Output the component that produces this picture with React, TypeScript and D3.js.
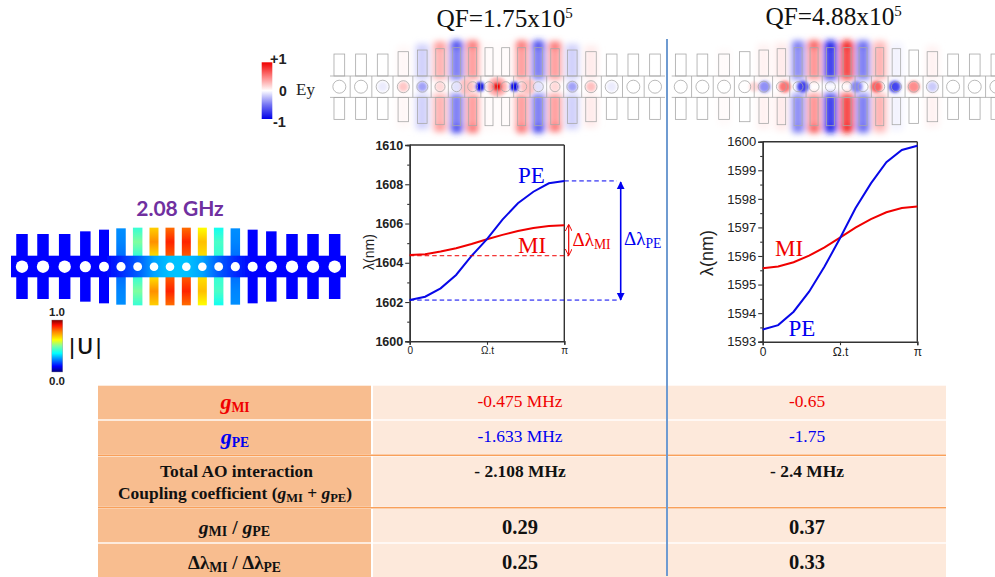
import React, { useEffect, useRef } from "react";
import * as d3 from "d3";

// ---- Data ----
const phase = [0, 0.1, 0.2, 0.3, 0.4, 0.5, 0.6, 0.7, 0.8, 0.9, 1];
const pe175 = [1602.1, 1602.27, 1602.7, 1603.38, 1604.35, 1605.2, 1606.2, 1607.03, 1607.62, 1608.05, 1608.17];
const mi175 = [1604.4, 1604.43, 1604.57, 1604.74, 1604.96, 1605.2, 1605.42, 1605.62, 1605.77, 1605.87, 1605.91];
const pe488 = [1593.43, 1593.58, 1594.05, 1594.75, 1595.63, 1596.62, 1597.67, 1598.54, 1599.28, 1599.71, 1599.86];
const mi488 = [1595.57, 1595.63, 1595.78, 1596.01, 1596.3, 1596.64, 1596.99, 1597.29, 1597.53, 1597.68, 1597.73];
const majorTicks175 = [1600, 1602, 1604, 1606, 1608, 1610];
const minorTicks175 = [1601, 1603, 1605, 1607, 1609];
const majorTicks488 = [1593, 1594, 1595, 1596, 1597, 1598, 1599, 1600];
const minorTicks488 = [1593.5, 1594.5, 1595.5, 1596.5, 1597.5, 1598.5, 1599.5];

// Ey field amplitude for each of the 18 unit cells
const eyArms175 = [0, 0, 0, 0.03, -0.16, 0.3, -0.45, 0.38, 0.02, 0.02, 0.38, -0.45, 0.38, -0.16, 0.08, 0, 0, 0];
const eyArms488 = [0, 0, 0.02, 0, 0.05, 0.08, -0.38, 0.42, -0.72, 0.72, -0.45, 0.3, -0.04, 0, 0.05, 0, 0, 0];
const eyTips175 = [0, 0, 0, 0, 0, 0.45, -0.85, 0.65, 0, 0, 0.65, -0.85, 0.65, 0, 0, 0, 0, 0];
const eyTips488 = [0, 0, 0, 0, 0, 0, -0.5, 0.8, -1, 1, -0.6, 0.25, 0, 0, 0, 0, 0, 0];
const eyHole175: [number, number, number][] = [[8.5, 0.3, 10], [6.6, 0.24, 8], [10.4, 0.24, 8], [3, 0.22, 5], [4, -0.32, 5], [5, 0.15, 5], [12, 0.15, 5], [13, -0.32, 5], [14, 0.25, 5], [2, -0.07, 5], [15, -0.07, 5], [6, -0.1, 5], [11, -0.1, 5], [7.45, -1, 4.6], [9.55, -1, 4.6], [8.5, 1, 4.8]];
const eyHole488: [number, number, number][] = [[6.3, -0.7, 6], [5.2, 0.55, 6], [4.05, -0.38, 6], [3.5, 0.16, 5], [10.8, 0.62, 6], [11.9, -0.7, 6], [13, 0.45, 6], [14, -0.18, 5], [9.6, -0.42, 6]];

// Acoustic |U| per cell: [next to the waveguide, mid arm, arm tip]
const uArms: [number, number, number][] = [
  [0.11, 0.11, 0.11], [0.11, 0.11, 0.11], [0.11, 0.11, 0.11], [0.11, 0.11, 0.11], [0.11, 0.11, 0.11],
  [0.22, 0.24, 0.25], [0.42, 0.5, 0.42], [0.66, 0.76, 0.68], [0.82, 0.88, 0.8], [0.82, 0.88, 0.8],
  [0.66, 0.7, 0.62], [0.42, 0.44, 0.38], [0.22, 0.24, 0.25], [0.11, 0.11, 0.11], [0.11, 0.11, 0.11],
  [0.11, 0.11, 0.11], [0.11, 0.11, 0.11], [0.11, 0.11, 0.11],
];
const uBand = [0.11, 0.11, 0.11, 0.11, 0.11, 0.15, 0.2, 0.27, 0.3, 0.3, 0.27, 0.2, 0.15, 0.11, 0.11, 0.11, 0.11, 0.11];

const rowLabels = ["gMI", "gPE", "total", "gratio", "lratio"];
const values175 = ["-0.475 MHz", "-1.633 MHz", "- 2.108 MHz", "0.29", "0.25"];
const values488 = ["-0.65", "-1.75", "- 2.4 MHz", "0.37", "0.33"];

// ---- Layout ----
const ROW_TOP = [385.7, 420.7, 456.5, 509, 543.7];
const ROW_BOT = [419.3, 454.3, 506.8, 542.3, 577];
const ROW_BASE = [406.7, 441.5, 477, 533.5, 568.5];
const CELL_X = [268, 333, 398, 460, 517, 570, 620, 668, 717, 767, 815, 865, 915, 967, 1023, 1085, 1150, 1215].map((v) => v / 3);
const CELL_TOP = [162, 162, 162, 155, 150, 146, 143, 143, 143, 143, 143, 143, 146, 150, 155, 162, 162, 162].map((v) => (v - 260) / 3);
const CELL_W = [10.7, 10.7, 10.7, 10.5, 9.5, 8.5, 8, 8, 8, 8, 8, 8, 8.5, 9.5, 10.5, 10.7, 10.7, 10.7];
const HOLE_R = [6.5, 6.5, 6.5, 6, 5.5, 5, 5, 5, 5, 5, 5, 5, 5, 5.5, 6, 6.5, 6.5, 6.5];
const US_X = [66, 129, 194, 256, 312, 363, 413, 462, 510, 559, 607, 656, 706, 758, 814, 876, 939, 1004].map((v) => v / 3);
const US_TOP = [132, 132, 132, 124, 119, 115, 113, 113, 113, 113, 113, 113, 115, 119, 124, 132, 132, 132].map((v) => 190 + v / 3);
const US_W = [11.5, 11.5, 11.5, 10.5, 10, 9.5, 9.5, 9, 9, 9, 9, 9.5, 9.5, 10, 10.5, 11.5, 11.5, 11.5];
const US_R = [6.2, 6.2, 6.2, 5.6, 5, 4.6, 4.4, 4.3, 4.3, 4.3, 4.3, 4.4, 4.6, 5, 5.6, 6.2, 6.2, 6.2];

const ey = d3.scaleLinear<string>().domain([-1, -0.4, 0, 0.4, 1]).range(["#0000e8", "#8a8af5", "#ffffff", "#ff9a9a", "#f00000"]);
const jet = d3.scaleLinear<string>()
  .domain([0, 0.11, 0.36, 0.5, 0.62, 0.78, 0.9, 1])
  .range(["#00007f", "#0000ff", "#00ffff", "#7fff9f", "#ffff00", "#ff8000", "#ff1000", "#800000"]);

const SERIF = "'Liberation Serif', serif";
const SANS = "'Liberation Sans', sans-serif";

function FieldMap({ id, dx, x0, x1, arms, tips, holes }: { id: string; dx: number; x0: number; x1: number; arms: number[]; tips: number[]; holes: [number, number, number][] }) {
  const cy = 86.7;
  return (
    <g>
      <defs>
        <clipPath id={`${id}-clip`}><rect x={x0 - 6} y={30} width={x1 - x0 + 12} height={112} /></clipPath>
      </defs>
      <g clipPath={`url(#${id}-clip)`}>
        <g filter="url(#blur3)">
          {arms.map((a, i) => a === 0 ? null : (
            <g key={i} fill={ey(a)}>
              <rect x={dx + CELL_X[i] - 6.5} y={cy + CELL_TOP[i] - 6} width={13} height={-CELL_TOP[i] - 1} />
              <rect x={dx + CELL_X[i] - 6.5} y={cy + 7} width={13} height={-CELL_TOP[i] - 1} />
            </g>
          ))}
          {tips.map((a, i) => a === 0 ? null : (
            <g key={i} fill={ey(a)} opacity={0.8}>
              <rect x={dx + CELL_X[i] - 5} y={cy + CELL_TOP[i] - 7} width={10} height={7} />
              <rect x={dx + CELL_X[i] - 5} y={cy - CELL_TOP[i]} width={10} height={7} />
            </g>
          ))}
        </g>
        <g filter="url(#blur2)">
          {holes.map(([c, a, r], i) => {
            const lo = Math.floor(c), hi = Math.min(17, lo + 1);
            const x = CELL_X[lo] + (CELL_X[hi] - CELL_X[lo]) * (c - lo);
            return <circle key={i} cx={dx + x} cy={cy} r={r} fill={ey(a)} />;
          })}
        </g>
        <g fill="none" stroke="#a8a8a8" strokeWidth={0.8}>
          {CELL_X.map((x, i) => (
            <g key={i}>
              <rect x={dx + x - CELL_W[i] / 2} y={cy + CELL_TOP[i]} width={CELL_W[i]} height={-CELL_TOP[i] - 10.7} />
              <rect x={dx + x - CELL_W[i] / 2} y={cy + 10.7} width={CELL_W[i]} height={-CELL_TOP[i] - 10.7} />
              <circle cx={dx + x} cy={cy} r={HOLE_R[i]} />
              {i > 0 && <line x1={dx + (x + CELL_X[i - 1]) / 2} x2={dx + (x + CELL_X[i - 1]) / 2} y1={cy - 10.7} y2={cy + 10.7} />}
            </g>
          ))}
          <line x1={x0} x2={x1} y1={cy - 10.7} y2={cy - 10.7} />
          <line x1={x0} x2={x1} y1={cy + 10.7} y2={cy + 10.7} />
        </g>
      </g>
    </g>
  );
}

function Strip() {
  return (
    <g filter="url(#blur05)">
      <defs>
        {uArms.map((u, i) => (
          <React.Fragment key={i}>
            <linearGradient id={`at${i}`} x1="0" x2="0" y1="1" y2="0">
              {u.map((v, k) => <stop key={k} offset={k / 2} stopColor={jet(v)} />)}
            </linearGradient>
            <linearGradient id={`ab${i}`} x1="0" x2="0" y1="0" y2="1">
              {u.map((v, k) => <stop key={k} offset={k / 2} stopColor={jet(v)} />)}
            </linearGradient>
          </React.Fragment>
        ))}
        <linearGradient id="uband" x1="0" x2="1" y1="0" y2="0">
          {uBand.map((v, i) => <stop key={i} offset={(US_X[i] - 11) / 335} stopColor={jet(v)} />)}
        </linearGradient>
      </defs>
      {US_X.map((x, i) => (
        <g key={i}>
          <rect x={x - US_W[i] / 2} y={US_TOP[i]} width={US_W[i]} height={256 - US_TOP[i]} fill={`url(#at${i})`} />
          <rect x={x - US_W[i] / 2} y={277} width={US_W[i]} height={256 - US_TOP[i]} fill={`url(#ab${i})`} />
        </g>
      ))}
      <rect x={11} y={255.7} width={335} height={21.6} fill="url(#uband)" />
      {US_X.map((x, i) => <circle key={i} cx={x} cy={266.7} r={US_R[i]} fill="#fff" />)}
    </g>
  );
}

function Axis({ scale, side, at, values, size, labels, font }: any) {
  const ref = useRef<SVGGElement>(null);
  useEffect(() => {
    const gen = side === "left" ? d3.axisLeft(scale) : d3.axisBottom(scale);
    gen.tickValues(values).tickSize(size).tickPadding(2).tickFormat(labels ?? (() => ""));
    const g = d3.select(ref.current!);
    g.call(gen as any);
    g.select(".domain").attr("stroke", "#333").attr("stroke-width", 1.4);
    g.selectAll(".tick line").attr("stroke", "#333").attr("stroke-width", 1.1);
    g.selectAll("text").attr("fill", "#222").style("font", font ?? "").attr("font-family", SANS);
  }, []);
  return <g ref={ref} transform={side === "left" ? `translate(${at},0)` : `translate(0,${at})`} />;
}

function Plot({ x0, x1, yTop, yBot, domain, pe, mi, major, minor, font, xFont }: any) {
  const x = d3.scaleLinear().domain([0, 1]).range([x0, x1]);
  const y = d3.scaleLinear().domain(domain).range([yBot, yTop]);
  const line = d3.line<number>().x((_, i) => x(phase[i])).y((v) => y(v));
  return (
    <g>
      <line x1={x0} x2={x1} y1={yTop} y2={yTop} stroke="#333" strokeWidth={1.4} />
      <line x1={x1} x2={x1} y1={yTop} y2={yBot} stroke="#333" strokeWidth={1.4} />
      <Axis scale={y} side="left" at={x0} values={minor} size={2.5} />
      <Axis scale={y} side="left" at={x0} values={major} size={4.5} labels={(d: number) => String(d)} font={font} />
      <Axis scale={x} side="bottom" at={yBot} values={[0, 0.5, 1]} size={3.5} labels={(d: number) => (d === 0 ? "0" : d === 1 ? "π" : "Ω.t")} font={xFont} />
      <path d={line(mi)!} fill="none" stroke="#f00000" strokeWidth={2} />
      <path d={line(pe)!} fill="none" stroke="#0808e8" strokeWidth={2} />
    </g>
  );
}

function Sub({ children, dy = 4, size = 0.72 }: any) {
  return <tspan dy={dy} fontSize={`${size}em`}>{children}</tspan>;
}

function RowLabel({ kind }: { kind: string }) {
  const cx = 235;
  if (kind === "gMI" || kind === "gPE") {
    const c = kind === "gMI" ? "#f00000" : "#0000f0";
    return (
      <text x={cx} y={ROW_BASE[kind === "gMI" ? 0 : 1] + 2.5} textAnchor="middle" fill={c} fontFamily={SERIF} fontWeight="bold" fontSize={19}>
        <tspan fontStyle="italic" fontSize={22}>g</tspan><Sub dy={3}>{kind.slice(1)}</Sub>
      </text>
    );
  }
  if (kind === "total") {
    return (
      <g fontFamily={SERIF} fontWeight="bold" fontSize={17.4} fill="#111" textAnchor="middle">
        <text x={236.5} y={477}>Total AO interaction</text>
        <text x={235} y={499}>
          Coupling coefficient (<tspan fontStyle="italic">g</tspan><Sub dy={3}>MI</Sub>
          <tspan dy={-3}> + </tspan><tspan fontStyle="italic">g</tspan><Sub dy={3}>PE</Sub><tspan dy={-3}>)</tspan>
        </text>
      </g>
    );
  }
  if (kind === "gratio") {
    return (
      <text x={234.5} y={533.5} textAnchor="middle" fontFamily={SERIF} fontWeight="bold" fontSize={19.5} fill="#111">
        <tspan fontStyle="italic">g</tspan><Sub dy={2.5}>MI</Sub><tspan dy={-2.5}> / </tspan>
        <tspan fontStyle="italic">g</tspan><Sub dy={2.5}>PE</Sub>
      </text>
    );
  }
  return (
    <text x={234.5} y={568.5} textAnchor="middle" fontFamily={SERIF} fontWeight="bold" fontSize={19} fill="#111">
      Δλ<Sub dy={3}>MI</Sub><tspan dy={-3}> / Δλ</tspan><Sub dy={3}>PE</Sub>
    </text>
  );
}

export default function App() {
  const y175 = d3.scaleLinear().domain([1600, 1610]).range([341.3, 145]);
  const x175End = 564.3, x175Start = 409.7;
  const rowColor = (i: number) => (i === 0 ? "#f00000" : i === 1 ? "#0000f0" : "#111");
  const rowSize = (i: number) => (i < 3 ? 17.4 : 20.5);
  const rowWeight = (i: number) => (i < 2 ? "normal" : "bold");
  return (
    <svg width={995} height={577} style={{ position: "absolute", left: 0, top: 0, background: "#fff" }}>
      <defs>
        <filter id="blur3" filterUnits="userSpaceOnUse" x="320" y="0" width="680" height="170"><feGaussianBlur stdDeviation="3.4" /></filter>
        <filter id="blur2" filterUnits="userSpaceOnUse" x="320" y="0" width="680" height="170"><feGaussianBlur stdDeviation="1.6" /></filter>
        <filter id="blur05" filterUnits="userSpaceOnUse" x="0" y="200" width="360" height="130"><feGaussianBlur stdDeviation="0.4" /></filter>
        <linearGradient id="eybar" x1="0" x2="0" y1="0" y2="1">
          {[1, 0.5, 0, -0.5, -1].map((v, i) => <stop key={i} offset={i / 4} stopColor={ey(v)} />)}
        </linearGradient>
        <linearGradient id="ubar" x1="0" x2="0" y1="1" y2="0">
          {[0, 0.11, 0.36, 0.5, 0.62, 0.78, 0.9, 1].map((v) => <stop key={v} offset={v} stopColor={jet(v)} />)}
        </linearGradient>
        <marker id="ab" viewBox="0 0 10 10" refX="9" refY="5" markerWidth="8" markerHeight="9" markerUnits="userSpaceOnUse" orient="auto-start-reverse">
          <path d="M0,0L10,5L0,10Z" fill="#0000f0" />
        </marker>
        <marker id="ar" viewBox="0 0 10 10" refX="9" refY="5" markerWidth="7" markerHeight="7" markerUnits="userSpaceOnUse" orient="auto-start-reverse">
          <path d="M0,0L10,5L0,10" fill="none" stroke="#f00000" strokeWidth="1.4" />
        </marker>
      </defs>

      {/* Table */}
      {rowLabels.map((k, i) => (
        <g key={k}>
          <rect x={98} y={ROW_TOP[i]} width={273} height={ROW_BOT[i] - ROW_TOP[i]} fill="#f8bd8f" />
          <rect x={373} y={ROW_TOP[i]} width={573} height={ROW_BOT[i] - ROW_TOP[i]} fill="#fde9db" />
        </g>
      ))}
      <line x1={98} x2={946} y1={455.2} y2={455.2} stroke="#f9a05a" strokeWidth={1.4} />
      <line x1={98} x2={946} y1={507.7} y2={507.7} stroke="#f9a05a" strokeWidth={1.4} />
      {rowLabels.map((k) => <RowLabel key={k} kind={k} />)}
      {values175.map((v, i) => (
        <text key={i} x={520} y={ROW_BASE[i]} textAnchor="middle" fontFamily={SERIF} fontSize={rowSize(i)} fontWeight={rowWeight(i)} fill={rowColor(i)}>{v}</text>
      ))}
      {values488.map((v, i) => (
        <text key={i} x={807} y={ROW_BASE[i]} textAnchor="middle" fontFamily={SERIF} fontSize={rowSize(i)} fontWeight={rowWeight(i)} fill={rowColor(i)}>{v}</text>
      ))}

      {/* Field maps */}
      <FieldMap id="m1" dx={250} x0={330} x1={665} arms={eyArms175} tips={eyTips175} holes={eyHole175} />
      <FieldMap id="m2" dx={591.4} x0={671.7} x1={995} arms={eyArms488} tips={eyTips488} holes={eyHole488} />
      <line x1={667} x2={667} y1={39} y2={576} stroke="#6f9bd1" strokeWidth={2} />

      {/* Titles */}
      <text x={436.5} y={27} fontFamily={SERIF} fontSize={25.3} fill="#111">QF=1.75x10<tspan dy={-9} fontSize={15}>5</tspan></text>
      <text x={765.5} y={25} fontFamily={SERIF} fontSize={25.3} fill="#111">QF=4.88x10<tspan dy={-9} fontSize={15}>5</tspan></text>

      {/* Ey legend */}
      <rect x={261.7} y={62.3} width={10.6} height={56.7} fill="url(#eybar)" />
      <g fontFamily={SANS} fontWeight="bold" fill="#222">
        <text x={270} y={64} fontSize={14.5}>+1</text>
        <text x={279} y={96} fontSize={14}>0</text>
        <text x={273} y={127} fontSize={14.5}>-1</text>
      </g>
      <text x={296} y={95} fontFamily={SERIF} fontSize={17} fill="#222">Ey</text>

      {/* Acoustic mode */}
      <text x={180} y={216} textAnchor="middle" fontFamily="Lato, sans-serif" fontWeight="bold" fontSize={21} fill="#7030a0">2.08 GHz</text>
      <Strip />
      <rect x={51.8} y={320} width={11} height={52} fill="url(#ubar)" stroke="#999" strokeWidth={0.4} />
      <g fontFamily={SANS} fontWeight="bold" fontSize={11.5} fill="#222" textAnchor="middle">
        <text x={57} y={316}>1.0</text>
        <text x={57} y={385}>0.0</text>
      </g>
      <text x={66} y={354} fontFamily="'Open Sans', sans-serif" fontWeight="600" fontSize={22} letterSpacing={-1} fill="#111">|U|</text>

      {/* Plots */}
      <Plot x0={x175Start} x1={x175End} yTop={145} yBot={341.3} domain={[1600, 1610]} pe={pe175} mi={mi175} major={majorTicks175} minor={minorTicks175} font="bold 12.5px sans-serif" xFont="10px sans-serif" />
      <text transform="translate(374,252) rotate(-90)" textAnchor="middle" fontFamily={SANS} fontSize={14} fill="#222">λ(nm)</text>
      <text x={518} y={182.7} fontFamily={SERIF} fontSize={23} fill="#0000f0">PE</text>
      <text x={518} y={253} fontFamily={SERIF} fontSize={23} fill="#f00000">MI</text>
      <g strokeDasharray="4.5 3" strokeWidth={1}>
        <line x1={x175End} x2={617} y1={y175(pe175[10])} y2={y175(pe175[10])} stroke="#0000f0" />
        <line x1={x175Start} x2={618} y1={y175(pe175[0])} y2={y175(pe175[0])} stroke="#0000f0" />
        <line x1={x175Start} x2={569} y1={y175(mi175[0]) + 0.8} y2={y175(mi175[0]) + 0.8} stroke="#f00000" />
      </g>
      <line x1={620.7} x2={620.7} y1={182} y2={300} stroke="#0000f0" strokeWidth={1.6} markerStart="url(#ab)" markerEnd="url(#ab)" />
      <line x1={568.7} x2={568.7} y1={225} y2={255} stroke="#f00000" strokeWidth={1.2} markerStart="url(#ar)" markerEnd="url(#ar)" />
      <text x={572.5} y={246} fontFamily={SERIF} fontSize={19} fill="#f00000">Δλ<Sub dy={3}>MI</Sub></text>
      <text x={624} y={245} fontFamily={SERIF} fontSize={19} fill="#0000f0">Δλ<Sub dy={3}>PE</Sub></text>

      <Plot x0={762.7} x1={917.3} yTop={141.7} yBot={341.7} domain={[1593, 1600]} pe={pe488} mi={mi488} major={majorTicks488} minor={minorTicks488} font="13px sans-serif" xFont="12px sans-serif" />
      <text transform="translate(713,253) rotate(-90)" textAnchor="middle" fontFamily={SANS} fontSize={18} fill="#222">λ(nm)</text>
      <text x={775} y={255.7} fontFamily={SERIF} fontSize={23} fill="#f00000">MI</text>
      <text x={788.5} y={335.7} fontFamily={SERIF} fontSize={23} fill="#0000f0">PE</text>
    </svg>
  );
}
